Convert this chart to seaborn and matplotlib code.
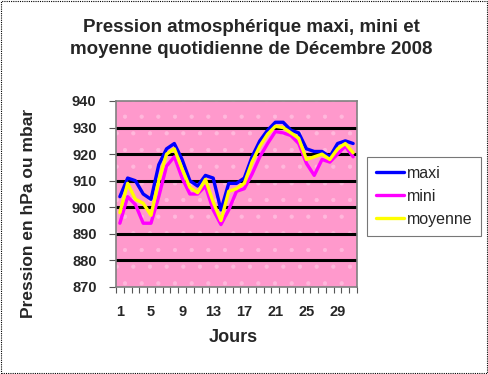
import numpy as np
import pandas as pd
import matplotlib
matplotlib.use("Agg")
import matplotlib.pyplot as plt
import seaborn as sns
from matplotlib.patches import Rectangle
from matplotlib.lines import Line2D

days = list(range(1, 32))
maxi = [904, 911, 910, 905, 903, 916, 922, 924, 918, 910, 908, 912, 911, 899, 909, 909,
        911, 919, 925, 929, 932, 932, 929, 928, 922, 921, 921, 919, 924, 925, 924]
mini = [894, 904, 901, 894, 894, 904, 915.5, 919, 911, 905, 905, 908, 899, 893.5, 899, 906,
        907, 912.5, 919, 924, 928.5, 928, 927, 924, 916.5, 912, 918, 917, 920, 923, 919]
moyenne = [898, 909, 903, 901.5, 897, 910, 920, 922, 914.5, 907.5, 905.5, 910.5, 902, 895, 906, 907,
           909, 917, 923, 927.5, 930.5, 930, 928, 926, 918, 919, 920, 918, 922, 924, 920.5]
series_names = ["maxi", "mini", "moyenne"]
colors = ["#0000FF", "#FF00FF", "#FFFF00"]
y_ticks = [870, 880, 890, 900, 910, 920, 930, 940]
x_labels = [1, 5, 9, 13, 17, 21, 25, 29]
title_lines = ["Pression atmosphérique maxi, mini et", "moyenne quotidienne de Décembre 2008"]

df = pd.DataFrame({"Jour": days * 3,
                   "Pression": maxi + mini + moyenne,
                   "Série": sum([[n] * len(days) for n in series_names], [])})

sns.set_style("white")
plt.rcParams["font.family"] = ["Liberation Sans", "DejaVu Sans"]
plt.rcParams["hatch.color"] = "#FFB8DC"
plt.rcParams["hatch.linewidth"] = 0.6

fig = plt.figure(figsize=(4.88, 3.74), dpi=100)
ax = fig.add_axes([116 / 488, 1 - 287 / 374, 241 / 488, 186 / 374])

ax.set_facecolor("#FF99CC")
bg = Rectangle((0, 0), 1, 1, transform=ax.transAxes, facecolor="none",
               edgecolor="#FFB8DC", hatch=".", linewidth=0, zorder=0)
ax.add_patch(bg)

for yv in y_ticks[1:-1]:
    ax.axhline(yv, color="black", linewidth=2.2, zorder=1)

sns.lineplot(data=df, x="Jour", y="Pression", hue="Série", hue_order=series_names,
             palette=colors, linewidth=2.4, ax=ax, legend=False, zorder=3)

ax.set_xlim(0.5, 31.5)
ax.set_ylim(870, 940)
ax.set_yticks(y_ticks)
ax.set_yticklabels([str(v) for v in y_ticks], fontsize=10.5, fontweight="bold")
ax.set_xticks(x_labels)
ax.set_xticklabels([str(v) for v in x_labels], fontsize=10.5, fontweight="bold")
ax.set_xticks(np.arange(0.5, 32, 1), minor=True)
ax.tick_params(axis="x", which="major", length=0, pad=13)
ax.tick_params(axis="x", which="minor", length=4, width=0.8, color="#555555", direction="out")
ax.tick_params(axis="y", which="major", length=5, width=0.8, color="#555555", direction="out", pad=9)
ax.tick_params(bottom=True, left=True, which="both")
for s in ax.spines.values():
    s.set_color("#808080")
    s.set_linewidth(1.2)
ax.set_xlabel("")
ax.set_ylabel("")

fig.text(233 / 488, 1 - 338 / 374, "Jours", fontsize=13, fontweight="bold",
         ha="center", va="center")
fig.text(29 / 488, 1 - 213 / 374, "Pression en hPa ou mbar", fontsize=12.5,
         fontweight="bold", rotation=90, ha="center", va="center")

fig.text(251 / 488, 1 - 31.5 / 374, title_lines[0], fontsize=13.5, fontweight="bold",
         ha="center", va="baseline")
fig.text(251 / 488, 1 - 53.5 / 374, title_lines[1], fontsize=13.5, fontweight="bold",
         ha="center", va="baseline")

handles = [Line2D([0], [0], color=c, linewidth=2.4) for c in colors]
leg = fig.legend(handles, series_names, loc="upper left",
                 bbox_to_anchor=(367 / 488, 1 - 157 / 374), frameon=True, fancybox=False,
                 prop={"size": 11.5}, handlelength=1.75, handletextpad=0.2,
                 borderpad=0.55, labelspacing=0.5, borderaxespad=0)
leg.get_frame().set_edgecolor("#555555")
leg.get_frame().set_linewidth(0.8)

fig.patches.append(Rectangle((0.002, 0.003), 0.995, 0.994, transform=fig.transFigure,
                             fill=False, edgecolor="black", linewidth=0.8,
                             linestyle=(0, (1, 1))))

fig.savefig("out.png", dpi=100)
